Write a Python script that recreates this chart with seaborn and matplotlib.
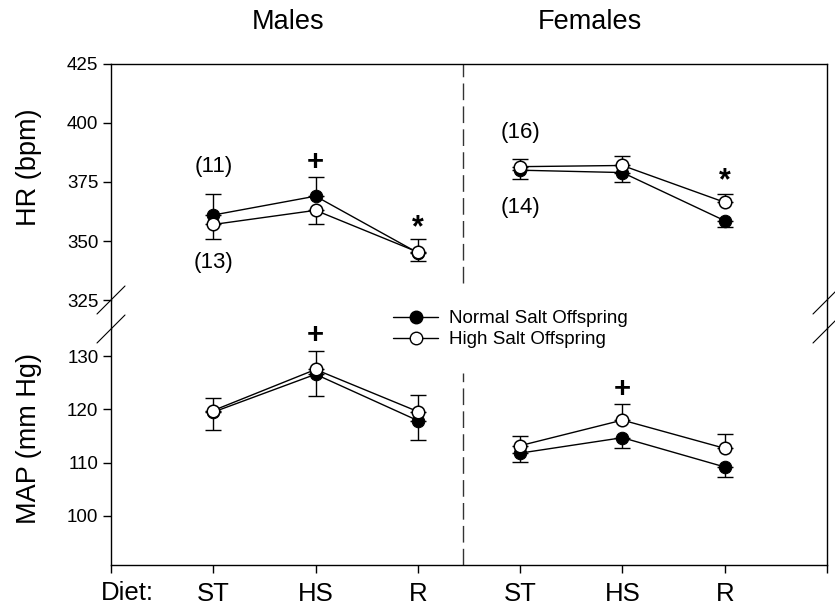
import numpy as np
import pandas as pd
import matplotlib
matplotlib.use("Agg")
import matplotlib.pyplot as plt
from matplotlib.lines import Line2D
import seaborn as sns

# x layout: males ST/HS/R, females ST/HS/R
diet_labels = ["ST", "HS", "R", "ST", "HS", "R"]
sex = ["Males"] * 3 + ["Females"] * 3
xpos = [1, 2, 3, 4, 5, 6]

# heart rate (bpm), mean and SE
hr_normal = [361.0, 369.0, 345.0, 380.0, 379.0, 358.6]
hr_normal_se = [9.0, 8.0, 3.5, 3.9, 3.9, 2.5]
hr_high = [357.0, 363.0, 345.3, 381.5, 382.0, 366.4]
hr_high_se = [6.0, 6.0, 5.5, 3.4, 4.0, 3.5]

# mean arterial pressure (mm Hg), mean and SE
map_normal = [119.5, 126.6, 117.9, 111.8, 114.7, 109.2]
map_normal_se = [3.3, 4.1, 3.6, 1.7, 1.9, 1.8]
map_high = [119.8, 127.5, 119.6, 113.2, 118.0, 112.7]
map_high_se = [2.3, 3.4, 3.2, 1.9, 3.0, 2.7]

W, H = 835, 613


def fx(px):
    return px / W


def fy(py):
    return 1 - py / H


def draw_panel(ax, normal, normal_se, high, high_se):
    df = pd.DataFrame({"x": xpos, "sex": sex, "normal": normal, "high": high})
    # one-sided bars: the higher series points up, the lower one down
    n_up = [s if n > h else 0 for n, h, s in zip(normal, high, normal_se)]
    n_lo = [0 if n > h else s for n, h, s in zip(normal, high, normal_se)]
    h_up = [s if h >= n else 0 for n, h, s in zip(normal, high, high_se)]
    h_lo = [0 if h >= n else s for n, h, s in zip(normal, high, high_se)]
    ax.errorbar(xpos, normal, yerr=[n_lo, n_up], fmt="none", ecolor="k",
                elinewidth=1, capsize=6, capthick=1, zorder=2)
    ax.errorbar(xpos, high, yerr=[h_lo, h_up], fmt="none", ecolor="k",
                elinewidth=1, capsize=6, capthick=1, zorder=2)
    for s in ["Males", "Females"]:
        sub = df[df["sex"] == s]
        sns.lineplot(data=sub, x="x", y="normal", ax=ax, color="k", lw=1,
                     marker="o", markersize=9, markerfacecolor="k",
                     markeredgecolor="k", errorbar=None, legend=False, zorder=3)
        sns.lineplot(data=sub, x="x", y="high", ax=ax, color="k", lw=1,
                     marker="o", markersize=9, markerfacecolor="white",
                     markeredgecolor="k", markeredgewidth=1.1,
                     errorbar=None, legend=False, zorder=4)
    ax.set_xlabel("")
    ax.set_ylabel("")
    ax.set_xlim(0, 7)


sns.set_style("ticks")
plt.rcParams["font.family"] = ["Liberation Sans", "DejaVu Sans"]
plt.rcParams["axes.linewidth"] = 1.0
plt.rcParams["axes.edgecolor"] = "black"
plt.rcParams["text.color"] = "black"
plt.rcParams["axes.labelcolor"] = "black"
plt.rcParams["xtick.color"] = "black"
plt.rcParams["ytick.color"] = "black"

fig = plt.figure(figsize=(8.35, 6.13), dpi=100)
ax_top = fig.add_axes([fx(111), fy(300), fx(716), 236 / H])
ax_bot = fig.add_axes([fx(111), fy(565), fx(716), 236 / H])

draw_panel(ax_top, hr_normal, hr_normal_se, hr_high, hr_high_se)
draw_panel(ax_bot, map_normal, map_normal_se, map_high, map_high_se)

# top panel (HR)
ax_top.set_ylim(325, 425)
ax_top.set_yticks([325, 350, 375, 400, 425])
ax_top.spines["bottom"].set_visible(False)
ax_top.tick_params(axis="x", bottom=False, labelbottom=False)
ax_top.tick_params(axis="y", direction="out", length=6, width=1, labelsize=13.5, pad=3)

# bottom panel (MAP)
ax_bot.set_ylim(90.8, 135.1)
ax_bot.set_yticks([100, 110, 120, 130])
ax_bot.spines["top"].set_visible(False)
ax_bot.set_xticks(range(0, 8))
ax_bot.set_xticklabels([""] + diet_labels + [""])
ax_bot.tick_params(axis="x", direction="out", length=6, width=1, labelsize=18.5, pad=6)
ax_bot.tick_params(axis="y", direction="out", length=6, width=1, labelsize=13.5, pad=3)
ax_bot.text(0.16, -0.119, "Diet:", transform=ax_bot.get_xaxis_transform(),
            ha="center", va="center", fontsize=18.5)

# dashed divider between males and females
ax_top.axvline(3.44, ymin=0.072, ymax=1, color="#333333", lw=1, ls=(0, (12, 4.5)))
ax_bot.axvline(3.44, ymin=0, ymax=0.815, color="#333333", lw=1, ls=(0, (12, 4.5)))

# annotations
ann = dict(ha="center", va="center", fontsize=16)
ax_top.text(1, 381.4, "(11)", **ann)
ax_top.text(1, 340.7, "(13)", **ann)
ax_top.text(4, 395.8, "(16)", **ann)
ax_top.text(4, 364.4, "(14)", **ann)
ax_top.text(2, 383.3, "+", ha="center", va="center", fontsize=21, fontweight="bold")
ax_top.text(3, 355.5, "*", ha="center", va="center", fontsize=22, fontweight="bold")
ax_top.text(6, 375.5, "*", ha="center", va="center", fontsize=22, fontweight="bold")
ax_bot.text(2, 134.0, "+", ha="center", va="center", fontsize=21, fontweight="bold")
ax_bot.text(5, 123.9, "+", ha="center", va="center", fontsize=21, fontweight="bold")

# continue the side spines through the gap and add break marks
for xp in (111, 827):
    fig.add_artist(Line2D([fx(xp), fx(xp)], [fy(300), fy(329)], color="k", lw=1))
    for yp in (300, 329):
        fig.add_artist(Line2D([fx(xp - 14), fx(xp + 14)], [fy(yp + 14), fy(yp - 14)],
                              color="k", lw=0.8))

# titles and axis labels
fig.text(fx(288), fy(22), "Males", ha="center", va="center", fontsize=19.5)
fig.text(fx(590), fy(22), "Females", ha="center", va="center", fontsize=19.5)
fig.text(fx(29), fy(167), "HR (bpm)", rotation=90, ha="center", va="center", fontsize=19.5)
fig.text(fx(29), fy(438), "MAP (mm Hg)", rotation=90, ha="center", va="center", fontsize=19.5)

# legend
handles = [
    Line2D([], [], color="k", lw=1, marker="o", markersize=9,
           markerfacecolor="k", markeredgecolor="k"),
    Line2D([], [], color="k", lw=1, marker="o", markersize=9,
           markerfacecolor="white", markeredgecolor="k"),
]
fig.legend(handles, ["Normal Salt Offspring", "High Salt Offspring"],
           loc="upper left", bbox_to_anchor=(fx(393), fy(310)), frameon=False,
           fontsize=13.5, handlelength=2.4, handletextpad=0.6, labelspacing=0.22,
           borderpad=0, borderaxespad=0)

fig.savefig("out.png", dpi=100)
